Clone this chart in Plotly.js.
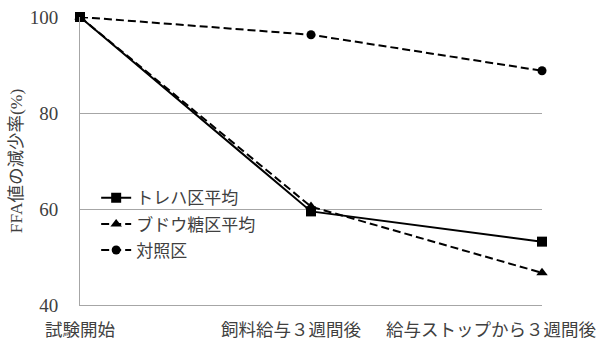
<!DOCTYPE html>
<html>
<head>
<meta charset="utf-8">
<script src="https://cdn.plot.ly/plotly-3.0.1.min.js"></script>
<style>html,body{margin:0;padding:0;background:#fff;}#chart{width:601px;height:340px;}</style>
</head>
<body>
<div id="chart"></div>
<script>
const categories = ["試験開始", "飼料給与３週間後", "給与ストップから３週間後"];
const seriesNames = ["トレハ区平均", "ブドウ糖区平均", "対照区"];
const trehalose = [100, 59.5, 53.2];
const glucose = [100, 60.5, 46.7];
const control = [100, 96.3, 88.8];
const yTicks = [40, 60, 80, 100];
const yTitle = "FFA値の減少率(%)";

const FONT = "'Liberation Serif', 'Noto Sans CJK JP', serif";
const TXT = "#404040";
const xIdx = categories.map((c, i) => i);

const traces = [
  {x: xIdx, y: control, name: seriesNames[2], legendrank: 3, legendgroup: "c", cliponaxis: false,
   mode: "lines+markers", line: {color: "#000", width: 2, dash: "8px,4px"},
   marker: {symbol: "circle", size: 9, color: "#000"}},
  {x: xIdx, y: glucose, name: seriesNames[1], legendrank: 2, legendgroup: "g", cliponaxis: false,
   mode: "lines+markers", line: {color: "#000", width: 2, dash: "8px,4px"},
   marker: {symbol: "triangle-up", size: 10, color: "#000"}},
  {x: xIdx, y: trehalose, name: seriesNames[0], legendrank: 1, legendgroup: "t", cliponaxis: false,
   mode: "lines+markers", line: {color: "#000", width: 2},
   marker: {symbol: "square", size: 10, color: "#000"}}
];

const labelShift = [0, -20, -51];
const annotations = categories.map((c, i) => ({
  x: i, y: 0, xref: "x", yref: "paper", yanchor: "top", xanchor: "center",
  yshift: -13, xshift: labelShift[i], showarrow: false, text: c,
  font: {family: FONT, size: 17.5, color: TXT}
}));

const layout = {
  width: 601, height: 340,
  margin: {l: 80, r: 59, t: 17, b: 35},
  paper_bgcolor: "#fff", plot_bgcolor: "#fff",
  font: {family: FONT, color: TXT},
  showlegend: true,
  legend: {x: 0.035, y: 0.433, xanchor: "left", yanchor: "top",
    bgcolor: "rgba(0,0,0,0)", font: {family: FONT, size: 17, color: TXT},
    tracegroupgap: 1, itemwidth: 30},
  xaxis: {range: [0, 2], showticklabels: false, showgrid: false, zeroline: false,
    showline: true, linecolor: "#a6a6a6", linewidth: 1, ticks: "", fixedrange: true},
  yaxis: {range: [40, 100], tickvals: yTicks, ticktext: yTicks.map(String),
    showgrid: true, gridcolor: "#a6a6a6", gridwidth: 1, zeroline: false,
    showline: true, linecolor: "#a6a6a6", linewidth: 1, ticks: "",
    ticklabelstandoff: 17,
    tickfont: {family: FONT, size: 19, color: TXT},
    title: {text: yTitle, standoff: 2, font: {family: FONT, size: 17.5, color: TXT}},
    automargin: false},
  annotations: annotations
};

Plotly.newPlot("chart", traces, layout, {displayModeBar: false, staticPlot: true});
</script>
</body>
</html>
